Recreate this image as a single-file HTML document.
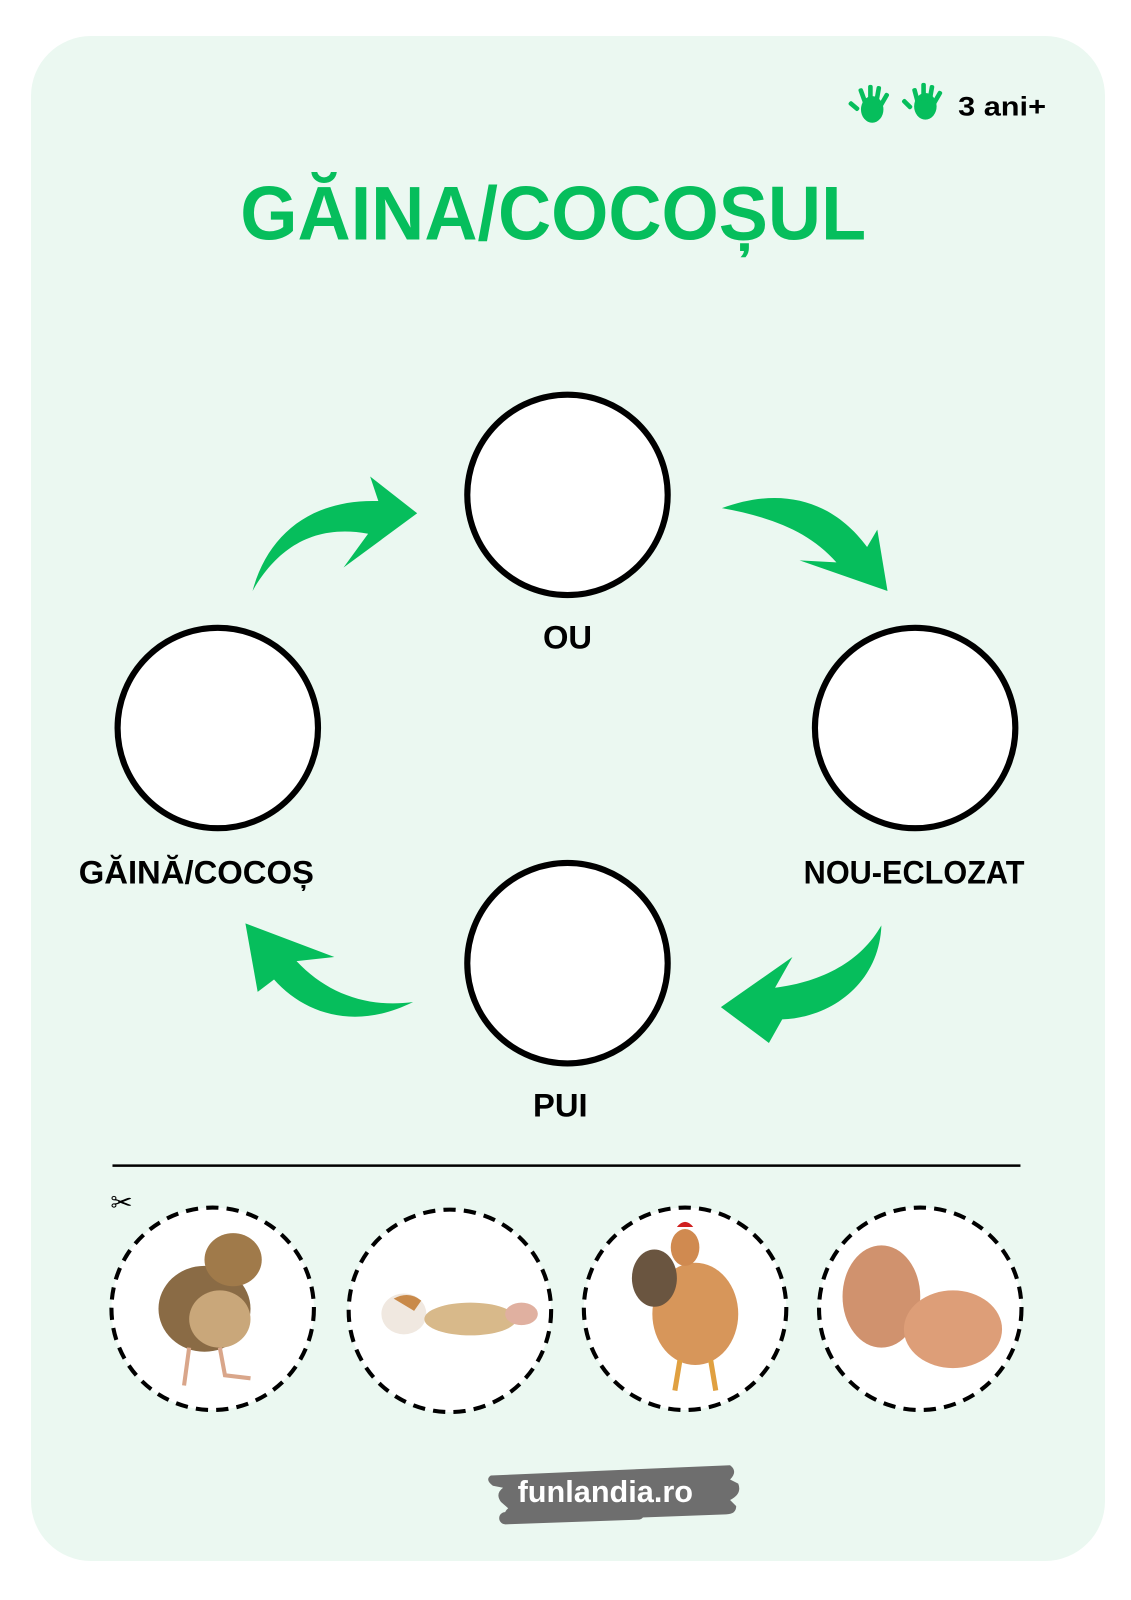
<!DOCTYPE html>
<html><head><meta charset="utf-8"><style>
html,body{margin:0;padding:0;background:#fff}
body{width:1131px;height:1600px;position:relative;overflow:hidden;font-family:"Liberation Sans","DejaVu Sans",sans-serif}
</style></head><body>
<svg width="1131" height="1600" viewBox="0 0 1131 1600" xmlns="http://www.w3.org/2000/svg" style="position:absolute;left:0;top:0">
<rect x="31" y="36" width="1074" height="1525" rx="60" fill="#EBF8F1"/>
<g transform="scale(1.0225)">
<!-- hands -->
<g fill="#06BE5C">
<ellipse cx="853" cy="107" rx="11" ry="13"/><rect x="842" y="86" width="4.5" height="18" rx="2" transform="rotate(-20 844 95)"/><rect x="849" y="83" width="4.5" height="18" rx="2"/><rect x="856" y="84" width="4.5" height="18" rx="2" transform="rotate(10 858 93)"/><rect x="862" y="90" width="4.5" height="16" rx="2" transform="rotate(30 864 98)"/><rect x="833" y="98" width="4.5" height="12" rx="2" transform="rotate(-50 835 104)"/>
<ellipse cx="905" cy="104" rx="11" ry="13"/><rect x="894" y="86" width="4.5" height="18" rx="2" transform="rotate(-15 896 95)"/><rect x="901" y="81" width="4.5" height="18" rx="2"/><rect x="908" y="83" width="4.5" height="18" rx="2" transform="rotate(10 910 92)"/><rect x="914" y="88" width="4.5" height="16" rx="2" transform="rotate(30 916 96)"/><rect x="885" y="96" width="4.5" height="12" rx="2" transform="rotate(-45 887 102)"/>
</g>
<text x="937" y="113" font-size="26" font-weight="bold" fill="#000" textLength="86" lengthAdjust="spacingAndGlyphs">3 ani+</text>
<text x="541" y="234" text-anchor="middle" font-size="74" font-weight="bold" fill="#06BE5C" textLength="612" lengthAdjust="spacingAndGlyphs">GĂINA/COCOȘUL</text>
<!-- circles -->
<g fill="#fff" stroke="#000" stroke-width="6">
<circle cx="555" cy="484" r="98"/><circle cx="213" cy="712" r="98"/><circle cx="895" cy="712" r="98"/><circle cx="555" cy="942" r="98"/>
</g>
<g font-size="32" font-weight="bold" fill="#000" text-anchor="middle">
<text x="555" y="634">OU</text>
<text x="192" y="864" textLength="230" lengthAdjust="spacingAndGlyphs">GĂINĂ/COCOȘ</text>
<text x="894" y="864" textLength="216" lengthAdjust="spacingAndGlyphs">NOU-ECLOZAT</text>
<text x="548" y="1092">PUI</text>
</g>
<!-- arrows -->
<g fill="#06BE5C">
<path d="M247,578 C262,522 305,488 370,490 L362,466 L408,502 L336,555 L360,522 C305,512 270,538 247,578 Z"/>
<path d="M706,497 C765,475 815,490 848,535 L858,518 L868,578 L782,548 L818,550 C790,518 750,505 706,497 Z"/>
<path d="M862,905 C860,960 815,995 765,997 L752,1020 L705,985 L775,936 L758,966 C805,960 842,940 862,905 Z"/>
<path d="M404,980 C348,1008 298,992 268,958 L252,970 L240,903 L327,936 L290,940 C320,972 360,986 404,980 Z"/>
</g>
<line x1="110" y1="1140" x2="998" y2="1140" stroke="#000" stroke-width="2.5"/>
<!-- dashed circles -->
<g fill="#fff" stroke="#000" stroke-width="4" stroke-dasharray="12 8">
<circle cx="208" cy="1280" r="99"/><circle cx="440" cy="1282" r="99"/><circle cx="670" cy="1280" r="99"/><circle cx="900" cy="1280" r="99"/>
</g>
<text x="108" y="1185" font-size="26" fill="#000">✂</text>
<!-- chick -->
<g>
<ellipse cx="200" cy="1280" rx="45" ry="42" fill="#8a6b45"/>
<ellipse cx="228" cy="1232" rx="28" ry="26" fill="#a07a4a"/>
<ellipse cx="215" cy="1290" rx="30" ry="28" fill="#c9a77a"/>
<path d="M185,1318 L180,1355 M215,1318 L220,1345 L245,1348" stroke="#d9a68a" stroke-width="4" fill="none"/>
</g>
<!-- hatchling -->
<g>
<ellipse cx="395" cy="1285" rx="22" ry="20" fill="#f0e8e0"/>
<path d="M385,1270 Q400,1262 412,1272 L405,1282 Z" fill="#c98a4a"/>
<ellipse cx="460" cy="1290" rx="45" ry="16" fill="#d8b98a"/>
<ellipse cx="510" cy="1285" rx="16" ry="11" fill="#e0b0a0"/>
</g>
<!-- hen -->
<g>
<ellipse cx="680" cy="1285" rx="42" ry="50" fill="#d7965a"/>
<ellipse cx="640" cy="1250" rx="22" ry="28" fill="#6a5540"/>
<ellipse cx="670" cy="1220" rx="14" ry="18" fill="#d08a50"/>
<path d="M662,1200 Q670,1190 678,1200 Z" fill="#d02020"/>
<path d="M665,1330 L660,1360 M695,1330 L700,1360" stroke="#e0a040" stroke-width="5"/>
</g>
<!-- eggs -->
<g>
<ellipse cx="862" cy="1268" rx="38" ry="50" fill="#d0926e"/>
<ellipse cx="932" cy="1300" rx="48" ry="38" fill="#dd9e78"/>
</g>
<!-- footer logo -->
<g transform="translate(-8,-31)">
<g fill="#6e6e6e">
<path d="M488,1474 L722,1464 Q730,1470 722,1478 L730,1482 Q734,1492 722,1498 L728,1504 Q728,1512 718,1512 L505,1520 Q498,1512 505,1506 L498,1500 Q492,1492 500,1486 L490,1484 Q482,1478 488,1474 Z"/>
<rect x="496" y="1510" width="142" height="12" rx="6" transform="rotate(-2 496 1510)"/>
</g>
<text x="600" y="1500" text-anchor="middle" font-size="30" font-weight="bold" fill="#fff">funlandia.ro</text>
</g>
</g>
</svg>
</body></html>
